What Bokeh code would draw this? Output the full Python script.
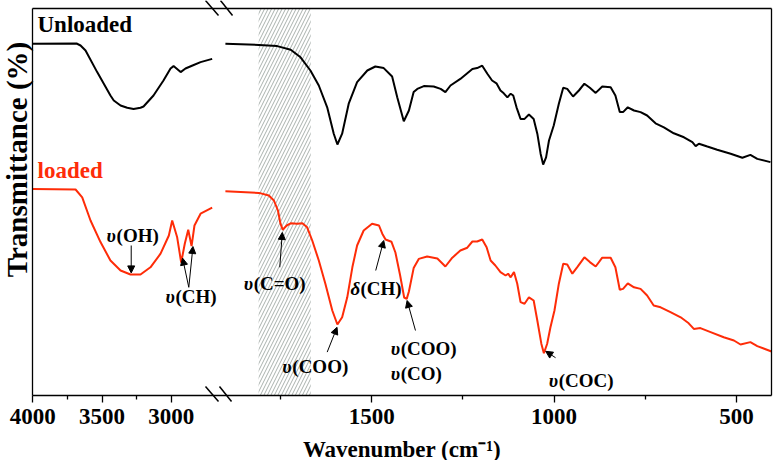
from bokeh.plotting import figure
from bokeh.models import (Range1d, FixedTicker, Arrow, NormalHead, PolyAnnotation,
                          LinearAxis, ColumnDataSource)
from bokeh.core.properties import value
from bokeh.embed import file_html
from bokeh.resources import INLINE

# ---------------- spectra ----------------
# high-wavenumber segment (left of the axis break)
hi_wn_unloaded = [4000, 3684, 3655, 3619, 3535, 3439, 3415, 3366, 3318, 3272, 3222, 3200,
                  3128, 3056, 3005, 2983, 2932, 2897, 2846, 2788, 2704]
hi_unloaded = [89.2, 89.25, 88.75, 87.5, 82.1, 76.25, 75.0, 73.75, 73.2, 72.9, 73.2, 73.5,
               76.25, 80.0, 83.0, 83.6, 82.1, 83.0, 83.75, 84.6, 85.4]

hi_wn_loaded = [4000, 3691, 3643, 3583, 3511, 3439, 3366, 3294, 3222, 3150, 3077, 3017,
                2993, 2957, 2928, 2902, 2877, 2853, 2832, 2788, 2704]
hi_loaded = [52.9, 52.75, 50.8, 45.0, 39.6, 35.0, 32.5, 31.5, 31.5, 33.3, 36.7, 41.25,
             45.0, 40.8, 34.5, 39.2, 42.7, 38.6, 43.75, 46.7, 48.2]

# fingerprint segment (right of the axis break)
lo_wn_unloaded = [1901, 1809, 1759, 1722, 1695, 1668, 1645, 1622, 1604, 1594,
                  1581, 1563, 1540, 1512, 1490, 1467, 1444, 1430, 1412, 1398,
                  1385, 1375, 1357, 1330, 1311, 1298, 1284, 1257, 1224, 1211,
                  1197, 1183, 1170, 1158, 1147, 1138, 1128, 1119, 1112, 1103,
                  1092, 1081, 1069, 1056, 1046, 1037, 1030, 1022, 1014, 1001,
                  987, 975, 964, 948, 932, 917, 902, 886, 868, 845,
                  832, 820, 811, 798, 781, 763, 745, 722, 699, 672,
                  644, 621, 612, 603, 580, 553, 516, 484, 462, 443, 407]
lo_unloaded = [89.2, 88.9, 88.6, 87.7, 85.8, 82.5, 78.75, 73.3, 66.7, 64.0,
               66.7, 74.2, 79.6, 82.5, 83.5, 83.1, 81.0, 75.8, 69.8, 72.5,
               77.1, 77.9, 78.6, 78.5, 77.9, 77.1, 78.75, 80.4, 82.9, 83.1,
               83.7, 81.7, 80.0, 79.3, 77.5, 76.8, 75.8, 76.7, 76.25, 73.3,
               70.4, 70.4, 71.5, 70.4, 66.7, 61.7, 59.0, 60.8, 65.0, 68.75,
               74.2, 78.2, 77.9, 76.0, 77.5, 79.2, 78.2, 76.9, 78.5, 78.3,
               76.25, 72.1, 72.1, 73.3, 72.5, 72.1, 71.25, 69.3, 68.3, 66.8,
               65.8, 64.6, 63.6, 64.2, 63.5, 62.7, 61.7, 60.7, 61.4, 60.4, 59.6]

lo_wn_loaded = [1901, 1809, 1782, 1768, 1757, 1750, 1744, 1733, 1722, 1704,
                1690, 1677, 1663, 1645, 1627, 1608, 1594, 1581, 1567, 1553,
                1540, 1522, 1499, 1480, 1471, 1462, 1446, 1435, 1422, 1411,
                1404, 1398, 1385, 1371, 1348, 1320, 1298, 1279, 1257, 1238,
                1224, 1211, 1197, 1185, 1174, 1161, 1147, 1133, 1126, 1119,
                1110, 1101, 1092, 1081, 1069, 1056, 1046, 1035, 1028, 1019,
                1010, 999, 987, 975, 964, 950, 937, 917, 902, 886,
                868, 845, 832, 820, 811, 798, 781, 763, 745, 727,
                708, 681, 653, 631, 617, 599, 571, 535, 507, 489, 462, 443, 404]
lo_loaded = [52.3, 51.9, 51.25, 50.0, 47.5, 44.2, 42.7, 43.75, 44.3, 44.2,
             44.3, 43.3, 40.0, 35.0, 29.2, 22.5, 19.0, 20.8, 25.8, 33.3,
             38.75, 42.5, 44.2, 43.75, 41.7, 40.25, 39.7, 37.0, 31.25, 25.75,
             25.4, 27.25, 33.1, 35.4, 36.0, 35.5, 33.5, 35.7, 37.5, 38.2,
             39.75, 39.75, 40.25, 38.3, 35.0, 33.75, 32.1, 31.25, 31.7, 30.8,
             32.1, 29.2, 24.6, 24.2, 25.8, 25.0, 20.0, 14.2, 11.8, 14.2,
             18.3, 22.5, 29.2, 34.2, 34.0, 31.7, 33.3, 35.8, 34.6, 33.5,
             35.7, 35.7, 33.3, 27.7, 27.9, 29.3, 28.3, 27.9, 26.25, 23.75,
             23.3, 22.1, 20.8, 19.3, 17.9, 18.1, 17.1, 15.8, 15.0, 14.0, 14.6, 13.6, 12.25]

# carbonyl window highlighted with hatching (cm-1)
band_wn = [1810, 1667]

# tick values of both axis segments
hi_major = [4000, 3500, 3000]
hi_minor = [3750, 3250]
lo_major = [1500, 1000, 500]
lo_minor = [1750, 1250, 750]

# ---------------- layout ----------------
RED = "#fe2c08"
FONT = value("Liberation Serif")

# the frame fills the whole canvas; each segment has its own linear scale
LO_RANGE = (2517.5, 398.6)     # main range: fingerprint region
HI_RANGE = (4233.4, -1351.5)   # extra range: high-wavenumber region
Y_RANGE = (-15.0, 100.0)
BOX_X = (2429.8, 404.2)        # plot box edges on the main scale
BOX_Y = (1.375, 98.0)


def hi_to_main(w):
    """Express a high-region wavenumber on the main (fingerprint) scale."""
    f = (w - HI_RANGE[0]) / (HI_RANGE[1] - HI_RANGE[0])
    return LO_RANGE[0] + f * (LO_RANGE[1] - LO_RANGE[0])


p = figure(width=773, height=460, output_backend="svg", toolbar_location=None,
           x_range=Range1d(*LO_RANGE), y_range=Range1d(*Y_RANGE),
           x_axis_location=None, y_axis_location=None,
           min_border=0, min_border_left=0, min_border_right=0,
           min_border_top=0, min_border_bottom=0)
p.extra_x_ranges = {"hi": Range1d(*HI_RANGE)}
p.grid.visible = False
p.background_fill_color = "white"
p.border_fill_color = "white"
p.outline_line_color = None

box_lo, box_hi = min(BOX_X), max(BOX_X)


def frame_axis(axis, side):
    axis.axis_line_color = "black"
    axis.axis_line_width = 1.3
    p.add_layout(axis, side)
    return axis


# bottom axis with tick labels for both segments
major_pos = [hi_to_main(w) for w in hi_major] + lo_major
minor_pos = [hi_to_main(w) for w in hi_minor] + lo_minor
xa = LinearAxis(fixed_location=BOX_Y[0], bounds=(box_lo, box_hi),
                ticker=FixedTicker(ticks=major_pos, minor_ticks=minor_pos),
                major_label_overrides={pos: str(w) for pos, w in
                                       zip(major_pos, hi_major + lo_major)},
                axis_label="Wavenumber (cm\u207b\u00b9)")
xa.major_tick_line_width = 1.3
xa.minor_tick_line_width = 1.3
xa.major_tick_in = 0
xa.major_tick_out = 7
xa.minor_tick_in = 0
xa.minor_tick_out = 4
xa.major_label_standoff = 7
xa.major_label_text_font = "Liberation Serif"
xa.major_label_text_font_style = "bold"
xa.major_label_text_font_size = "23px"
xa.major_label_text_color = "black"
xa.axis_label_standoff = 9
xa.axis_label_text_font = "Liberation Serif"
xa.axis_label_text_font_style = "bold"
xa.axis_label_text_font_size = "23px"
xa.axis_label_text_color = "black"
frame_axis(xa, "below")

# remaining edges of the plot box
for side, loc, bounds in (("above", BOX_Y[1], (box_lo, box_hi)),
                          ("left", BOX_X[0], BOX_Y),
                          ("right", BOX_X[1], BOX_Y)):
    ax = LinearAxis(fixed_location=loc, bounds=bounds, ticker=FixedTicker(ticks=[]),
                    major_tick_line_color=None, minor_tick_line_color=None,
                    major_label_text_font_size="0px")
    frame_axis(ax, side)

# hatched carbonyl band
p.quad(left=[band_wn[0]], right=[band_wn[1]], bottom=[BOX_Y[0]], top=[BOX_Y[1]],
       fill_color="white", fill_alpha=0.0, line_color=None,
       hatch_pattern="/", hatch_color="#9aa39f", hatch_alpha=0.85,
       hatch_scale=7, hatch_weight=1)

# spectra
p.line(hi_wn_unloaded, hi_unloaded, x_range_name="hi", line_color="black", line_width=2)
p.line(lo_wn_unloaded, lo_unloaded, line_color="black", line_width=2)
p.line(hi_wn_loaded, hi_loaded, x_range_name="hi", line_color=RED, line_width=2)
p.line(lo_wn_loaded, lo_loaded, line_color=RED, line_width=2)

# vertical axis title
p.text(x=[2473.1], y=[60.25], text=["Transmittance (%)"], angle=90, angle_units="deg",
       text_font=FONT, text_font_style="bold", text_font_size="29px",
       text_color="black", text_align="center", text_baseline="middle")

# sample names
p.text(x=[3966], y=[93.9], text=["Unloaded"], x_range_name="hi",
       text_font=FONT, text_font_style="bold", text_font_size="23px",
       text_color="black", text_baseline="alphabetic")
p.text(x=[3966], y=[57.6], text=["loaded"], x_range_name="hi",
       text_font=FONT, text_font_style="bold", text_font_size="23px",
       text_color=RED, text_baseline="alphabetic")

# band assignments: Greek symbol (italic) followed by the group name
hi_marks = dict(x=[3467, 3041], y=[41.3, 26.0], sym=["\u03c5", "\u03c5"],
                grp=["(OH)", "(CH)"])
lo_marks = dict(x=[1851, 1745, 1558, 1448, 1448, 1015],
                y=[29.3, 8.6, 28.0, 13.0, 6.8, 5.0],
                sym=["\u03c5", "\u03c5", "\u03b4", "\u03c5", "\u03c5", "\u03c5"],
                grp=["(C=O)", "(COO)", "(CH)", "(COO)", "(CO)", "(COC)"])

for marks, rng in ((hi_marks, "hi"), (lo_marks, "default")):
    src = ColumnDataSource(marks)
    p.text(x="x", y="y", text="sym", source=src, x_range_name=rng,
           text_font=FONT, text_font_style="bold italic", text_font_size="19px",
           text_color="black", text_align="left", text_baseline="alphabetic")
    p.text(x="x", y="y", text="grp", source=src, x_range_name=rng, x_offset=10,
           text_font=FONT, text_font_style="bold", text_font_size="19px",
           text_color="black", text_align="left", text_baseline="alphabetic")

# arrows from labels to the bands
hi_arrows = ColumnDataSource(dict(x0=[3289, 2873, 2873], y0=[38.75, 28.3, 28.3],
                                  x1=[3289, 2918, 2843], y1=[31.9, 35.6, 38.5]))
lo_arrows = ColumnDataSource(dict(x0=[1752, 1622, 1489, 1380, 996],
                                  y0=[33.3, 12.1, 32.5, 17.5, 10.7],
                                  x1=[1745, 1595, 1467, 1403, 1023],
                                  y1=[42.0, 18.3, 40.0, 25.0, 12.3]))
for src, rng in ((hi_arrows, "hi"), (lo_arrows, "default")):
    p.add_layout(Arrow(source=src, x_start="x0", y_start="y0", x_end="x1", y_end="y1",
                       x_range_name=rng, line_color="black", line_width=1,
                       end=NormalHead(size=7, fill_color="black", line_color="black",
                                      line_width=1)))

# axis-break marks across the top and bottom edges
for xs, ys in (([205, 218], [0, 15]), ([220, 232], [0, 15]),
               ([205, 218], [386, 401]), ([219, 231], [386, 401])):
    p.add_layout(PolyAnnotation(xs=xs, ys=ys, xs_units="canvas", ys_units="canvas",
                                fill_alpha=0, line_color="black", line_alpha=1.0,
                                line_width=1.5))

open("out.html", "w").write(file_html(p, INLINE))
